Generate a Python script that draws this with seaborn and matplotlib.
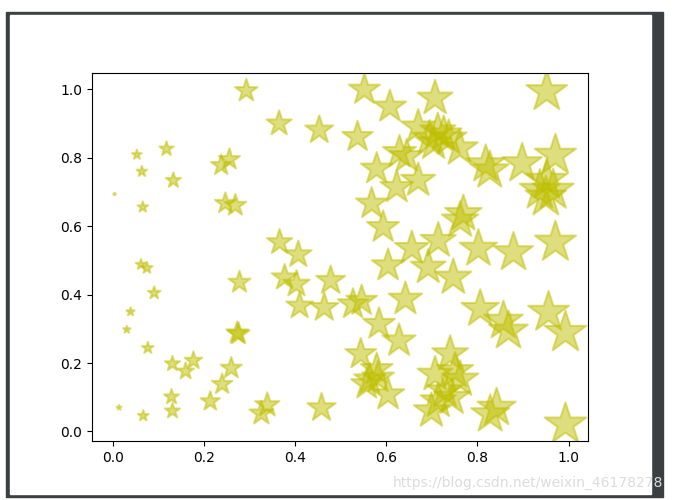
import numpy as np
import seaborn as sns
import matplotlib.pyplot as plt
from matplotlib.patches import Rectangle

# star positions (size follows x, s = 1000 * x)
xs = [0.004, 0.053, 0.064, 0.118, 0.133, 0.066, 0.238, 0.256, 0.247, 0.269,
      0.293, 0.365, 0.366, 0.062, 0.075, 0.091, 0.039, 0.031, 0.077, 0.014,
      0.067, 0.131, 0.160, 0.177, 0.129, 0.131, 0.214, 0.240, 0.260, 0.273,
      0.276, 0.278, 0.326, 0.339, 0.552, 0.608, 0.453, 0.537, 0.707, 0.670,
      0.695, 0.713, 0.726, 0.737, 0.761, 0.704, 0.629, 0.645, 0.579, 0.670,
      0.623, 0.568, 0.593, 0.656, 0.714, 0.604, 0.407, 0.952, 0.818, 0.827,
      0.898, 0.971, 0.937, 0.952, 0.966, 0.950, 0.769, 0.762, 0.802, 0.879,
      0.971, 0.692, 0.377, 0.403, 0.478, 0.410, 0.464, 0.527, 0.546, 0.642,
      0.584, 0.628, 0.544, 0.579, 0.564, 0.582, 0.557, 0.604, 0.458, 0.747,
      0.806, 0.857, 0.868, 0.956, 0.993, 0.740, 0.707, 0.751, 0.762, 0.729,
      0.744, 0.714, 0.699, 0.842, 0.828, 0.993]
ys = [0.694, 0.809, 0.760, 0.826, 0.734, 0.656, 0.778, 0.795, 0.667, 0.661,
      0.996, 0.900, 0.553, 0.488, 0.478, 0.405, 0.350, 0.298, 0.244, 0.070,
      0.046, 0.198, 0.176, 0.207, 0.101, 0.060, 0.088, 0.138, 0.185, 0.288,
      0.285, 0.436, 0.053, 0.077, 0.999, 0.949, 0.881, 0.861, 0.974, 0.890,
      0.857, 0.878, 0.869, 0.857, 0.828, 0.843, 0.816, 0.804, 0.768, 0.734,
      0.714, 0.666, 0.597, 0.535, 0.558, 0.485, 0.517, 0.993, 0.781, 0.763,
      0.783, 0.807, 0.705, 0.734, 0.705, 0.685, 0.636, 0.617, 0.534, 0.523,
      0.553, 0.480, 0.450, 0.431, 0.441, 0.367, 0.362, 0.372, 0.382, 0.387,
      0.314, 0.265, 0.226, 0.182, 0.152, 0.157, 0.138, 0.108, 0.069, 0.450,
      0.358, 0.323, 0.294, 0.348, 0.289, 0.226, 0.167, 0.177, 0.152, 0.118,
      0.099, 0.089, 0.060, 0.069, 0.050, 0.021]

sizes = np.array(xs) * 1000

fig = plt.figure(figsize=(6.75, 5), dpi=100)
fig.patch.set_facecolor("white")

# screenshot frame around the matplotlib window
W, H = 675, 500
fig.patches.append(Rectangle((6 / W, 3 / H), 657 / W, 485 / H,
                             transform=fig.transFigure, color="#3c3f41", zorder=-2))
fig.patches.append(Rectangle((10 / W, 6 / H), 641 / W, 479 / H,
                             transform=fig.transFigure, color="white", zorder=-1))

ax = fig.add_axes([92 / W, 59 / H, 496 / W, 368 / H])
sns.scatterplot(x=xs, y=ys, s=sizes, marker="*", color="y", alpha=0.5,
                edgecolor="face", linewidth=1.5, legend=False, ax=ax)

fig.text(663 / W, 13 / H, "https://blog.csdn.net/weixin_46178278",
         ha="right", va="baseline", fontsize=10, color="#dcdcdc")

fig.savefig("out.png", dpi=100)
